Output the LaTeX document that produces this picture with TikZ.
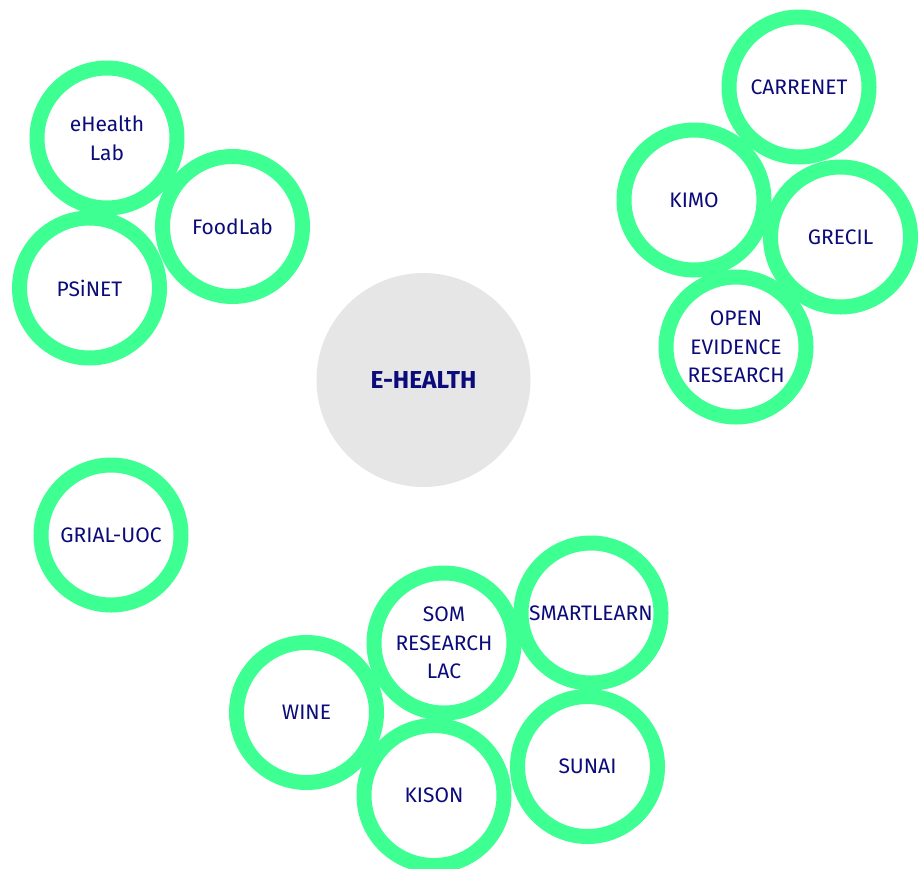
\documentclass[tikz,border=0pt]{standalone}
\usepackage{fontspec}
\setmainfont{Fira Sans}
\usepackage{tikz}
\definecolor{mint}{HTML}{3DFF92}
\definecolor{navy}{HTML}{0B0B7A}
\definecolor{hubgray}{HTML}{E6E6E6}
\tikzset{
  ring/.style={circle, draw=mint, line width=15pt, fill=white, minimum size=140pt,
    inner sep=0pt, text=navy, align=center, font=\fontsize{21}{28.5}\selectfont},
  hub/.style={circle, fill=hubgray, minimum size=214pt, inner sep=0pt, text=navy,
    font=\fontsize{24.5}{28}\selectfont\bfseries}
}

\begin{document}
\begin{tikzpicture}[x=1pt, y=-1pt]
        \useasboundingbox (0,0) rectangle (920,868);
        \node[hub] (ehealth) at (423.5,380) {E-HEALTH};
        % top left group
        \node[ring] (ehlab) at (107,138) {eHealth\\Lab};
        \node[ring] (foodlab) at (232.5,226.5) {FoodLab};
        \node[ring] (psinet) at (89.5,288) {PSiNET};
        \node[ring] (grial) at (111,535) {GRIAL-UOC};
        % top right group
        \node[ring] (carrenet) at (799,87) {CARRENET};
        \node[ring] (kimo) at (694,200) {KIMO};
        \node[ring] (grecil) at (840.5,237) {GRECIL};
        \node[ring] (openev) at (736,347) {OPEN\\EVIDENCE\\RESEARCH};
        % bottom group
        \node[ring] (som) at (444,643) {SOM\\RESEARCH\\LAC};
        \node[ring] (smartlearn) at (591,613) {SMARTLEARN};
        \node[ring] (wine) at (306.5,712.5) {WINE};
        \node[ring] (kison) at (434,795.5) {KISON};
        \node[ring] (sunai) at (587.5,766.5) {SUNAI};
    \end{tikzpicture}
\end{document}
